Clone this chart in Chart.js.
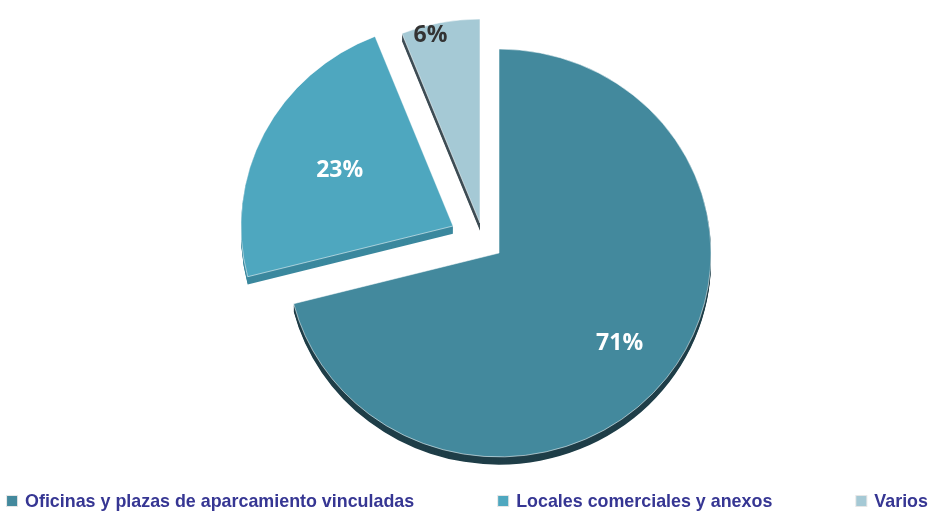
<!DOCTYPE html>
<html>
<head>
<meta charset="utf-8">
<script src="https://cdn.jsdelivr.net/npm/chart.js@4.4.1/dist/chart.umd.min.js"></script>
<style>
  html, body { margin: 0; padding: 0; background: #ffffff; }
  #wrap { width: 931px; height: 512px; position: relative; }
</style>
</head>
<body>
<div id="wrap"><canvas id="c" width="931" height="512"></canvas></div>
<script>
// Distribution of floor space by use (percent)
const categories = ['Oficinas y plazas de aparcamiento vinculadas', 'Locales comerciales y anexos', 'Varios'];
const shares = [71, 23, 6];

// Styling per slice
const sliceColors = ['#43899d', '#4ea7bf', '#a5c9d5'];
const sideColors = ['#1f3e48', '#3b889e', '#3e4d55'];
const labelColors = ['#ffffff', '#ffffff', '#333333'];
const explodeX = [0, -46, -19];        // pulled-out slices, px
const explodeY = [0, -27, -30];
const labelRadius = [0.72, 0.6, 0.95]; // label distance as a fraction of the radius
const labelTurn = [0, 0, -0.06];       // small angular nudge of a label, radians

const SQUASH = 0.962;   // slight vertical tilt of the pie
const DEPTH = 8;        // thickness of the pie's edge
const LEGEND_TEXT = '#363693';
const LEGEND_STRETCH = 0.94;

function pieCenter(chart) {
  const a = chart.chartArea;
  return { cx: (a.left + a.right) / 2, cy: (a.top + a.bottom) / 2 };
}

const pie3d = {
  id: 'pie3d',
  afterDatasetUpdate(chart) {
    const meta = chart.getDatasetMeta(0);
    meta.data.forEach((el, i) => {
      el.x += explodeX[i];
      el.y += explodeY[i] / SQUASH;
    });
  },
  beforeDatasetsDraw(chart) {
    const ctx = chart.ctx;
    const { cx, cy } = pieCenter(chart);
    ctx.save();
    ctx.translate(cx, cy);
    ctx.scale(1, SQUASH);
    ctx.translate(-cx, -cy);
    // extruded sides beneath each slice
    const meta = chart.getDatasetMeta(0);
    meta.data.forEach((el, i) => {
      ctx.fillStyle = sideColors[i];
      for (let k = DEPTH; k >= 1; k--) {
        ctx.beginPath();
        ctx.moveTo(el.x, el.y + k);
        ctx.arc(el.x, el.y + k, el.outerRadius, el.startAngle, el.endAngle);
        ctx.closePath();
        ctx.fill();
      }
    });
  },
  afterDatasetsDraw(chart) {
    const ctx = chart.ctx;
    ctx.restore();
    const { cy } = pieCenter(chart);
    const meta = chart.getDatasetMeta(0);
    const ds = chart.data.datasets[0];
    ctx.save();
    ctx.font = 'bold 23px "Open Sans", sans-serif';
    ctx.textAlign = 'center';
    ctx.textBaseline = 'middle';
    meta.data.forEach((el, i) => {
      const a = (el.startAngle + el.endAngle) / 2 + labelTurn[i];
      const r = el.outerRadius * labelRadius[i];
      const px = el.x + Math.cos(a) * r;
      const py = el.y + Math.sin(a) * r;
      ctx.fillStyle = labelColors[i];
      ctx.fillText(ds.data[i] + '%', px, cy + (py - cy) * SQUASH);
    });
    ctx.restore();
  },
  afterDraw(chart) {
    // legend row along the bottom
    const ctx = chart.ctx;
    const labels = chart.data.labels;
    const colors = chart.data.datasets[0].backgroundColor;
    const box = 10, boxGap = 8, itemGap = 84, y = 501;
    ctx.save();
    ctx.font = 'bold 19px "Liberation Sans", sans-serif';
    ctx.textBaseline = 'middle';
    const widths = labels.map(t => ctx.measureText(t).width * LEGEND_STRETCH);
    const total = widths.reduce((s, w) => s + w + box + boxGap, 0) + itemGap * (labels.length - 1);
    let x = (chart.width - total) / 2 + 2;
    labels.forEach((t, i) => {
      ctx.fillStyle = '#e6e6e6';
      ctx.fillRect(x - 1, y - box / 2 - 1, box + 2, box + 2);
      ctx.fillStyle = colors[i];
      ctx.fillRect(x, y - box / 2, box, box);
      ctx.fillStyle = LEGEND_TEXT;
      ctx.save();
      ctx.translate(x + box + boxGap, y + 1);
      ctx.scale(LEGEND_STRETCH, 1);
      ctx.fillText(t, 0, 0);
      ctx.restore();
      x += box + boxGap + widths[i] + itemGap;
    });
    ctx.restore();
  }
};

new Chart(document.getElementById('c'), {
  type: 'pie',
  data: {
    labels: categories,
    datasets: [{
      data: shares,
      backgroundColor: sliceColors,
      borderColor: 'rgba(255,255,255,0.55)',
      borderWidth: 1
    }]
  },
  options: {
    responsive: false,
    animation: false,
    devicePixelRatio: 1,
    radius: 212,
    rotation: 0,
    layout: { padding: { left: 67, right: 0, top: 0, bottom: 6 } },
    plugins: {
      legend: { display: false },
      tooltip: { enabled: false }
    }
  },
  plugins: [pie3d]
});
</script>
</body>
</html>
